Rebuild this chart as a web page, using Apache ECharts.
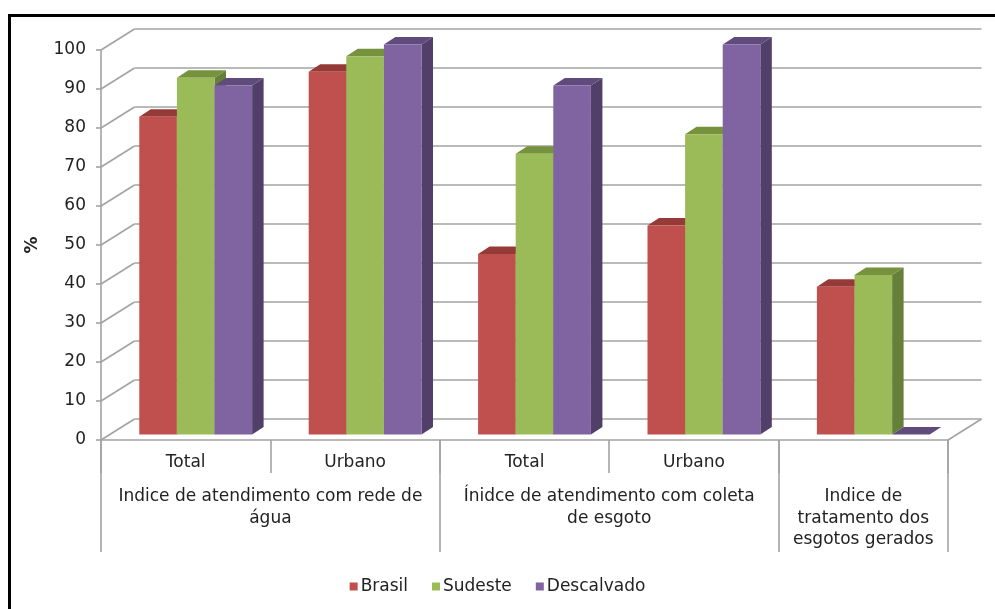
<!DOCTYPE html>
<html>
<head>
<meta charset="utf-8">
<script src="https://cdn.jsdelivr.net/npm/echarts@6/dist/echarts.min.js"></script>
<style>
html,body{margin:0;padding:0;background:#fff;}
#c{width:995px;height:609px;}
</style>
</head>
<body>
<div id="c"></div>
<script>
// ---- data ----
var subCategories = ['Total', 'Urbano', 'Total', 'Urbano', ''];
var groupLabels = ['', '', 'Indice de atendimento com rede de\nágua', '', '', '', 'Ínidce de atendimento com coleta\nde esgoto', '', '', 'Indice de\ntratamento dos\nesgotos gerados', ''];
var groupBoundaries = [0, 4, 8, 10];
var seriesNames = ['Brasil', 'Sudeste', 'Descalvado'];
var brasil = [81.5, 93, 46.3, 53.6, 37.9];
var sudeste = [91.5, 97, 72, 77, 40.9];
var descalvado = [89.5, 100, 89.5, 100, 0];
var yTicks = [0, 10, 20, 30, 40, 50, 60, 70, 80, 90, 100];

// ---- styles ----
var FONT = 'DejaVu Sans';
var TXT = '#222';
var GRID_C = '#a3a3a3';
var faceColors = ['#C0504D', '#9BBB59', '#8064A2'];
var topColors = ['#963a37', '#77923d', '#604b7d'];
var sideColors = ['#7e302e', '#66803a', '#513f6a'];
var WALL_DX = 33.5, WALL_DY = -21;     // depth of the floor / back wall
var BAR_OX = 10, BAR_OY = -5.5;        // front of bars within the depth
var BAR_DX = 11.5, BAR_DY = -7.5;      // depth of a bar
var BAR_FRAC = 0.222;                  // bar width as fraction of band

var chart = echarts.init(document.getElementById('c'), null, {renderer: 'canvas'});

function barSeries(idx, values) {
  return {
    name: seriesNames[idx],
    type: 'custom',
    xAxisIndex: 0,
    yAxisIndex: 0,
    z: 5,
    itemStyle: {color: faceColors[idx]},
    data: values.map(function (v, i) { return [i, v]; }),
    renderItem: function (params, api) {
      var cat = api.value(0), val = api.value(1);
      var base = api.coord([cat, 0]);
      var top = api.coord([cat, val]);
      var band = api.size([1, 0])[0];
      var bw = band * BAR_FRAC;
      var xl = base[0] - 1.5 * bw + idx * bw + BAR_OX;
      var xr = xl + bw;
      var yb = base[1] + BAR_OY;
      var yt = top[1] + BAR_OY;
      return {
        type: 'group',
        children: [
          {type: 'polygon', shape: {points: [[xr, yt], [xr + BAR_DX, yt + BAR_DY], [xr + BAR_DX, yb + BAR_DY], [xr, yb]]},
            style: {fill: sideColors[idx]}},
          {type: 'polygon', shape: {points: [[xl, yt], [xl + BAR_DX, yt + BAR_DY], [xr + BAR_DX, yt + BAR_DY], [xr, yt]]},
            style: {fill: topColors[idx]}},
          {type: 'rect', shape: {x: xl, y: yt, width: bw, height: Math.max(yb - yt, 0)},
            style: {fill: faceColors[idx]}}
        ]
      };
    }
  };
}

var wallSeries = {
  type: 'custom',
  name: 'walls',
  xAxisIndex: 0,
  yAxisIndex: 0,
  z: 1,
  silent: true,
  data: yTicks.map(function (v) { return [0, v]; }),
  renderItem: function (params, api) {
    var cs = params.coordSys;
    var y = api.coord([0, api.value(1)])[1];
    var left = cs.x, right = cs.x + cs.width;
    var ls = {stroke: GRID_C, lineWidth: 1.6, fill: null};
    var children = [
      {type: 'line', shape: {x1: left, y1: y, x2: left + WALL_DX, y2: y + WALL_DY}, style: ls},
      {type: 'line', shape: {x1: left + WALL_DX, y1: y + WALL_DY, x2: right + WALL_DX, y2: y + WALL_DY}, style: ls}
    ];
    if (api.value(1) === 0) {
      children.push({type: 'line', shape: {x1: right, y1: y, x2: right + WALL_DX, y2: y + WALL_DY}, style: ls});
    }
    return {type: 'group', children: children};
  }
};

var option = {
  animation: false,
  backgroundColor: '#fff',
  textStyle: {fontFamily: FONT},
  graphic: [{
    type: 'rect',
    shape: {x: 9.5, y: 15.5, width: 1100, height: 700},
    style: {fill: null, stroke: '#000', lineWidth: 3},
    silent: true
  }],
  legend: {
    data: seriesNames,
    left: 'center',
    top: 573,
    itemWidth: 8,
    itemHeight: 8,
    itemGap: 24,
    icon: 'rect',
    textStyle: {fontFamily: FONT, fontSize: 17, color: TXT, padding: [0, 0, 0, -2]}
  },
  grid: {left: 101, right: 47, top: 50, bottom: 169, containLabel: false},
  xAxis: [
    {
      type: 'category',
      data: subCategories,
      position: 'bottom',
      boundaryGap: true,
      axisLine: {show: true, lineStyle: {color: GRID_C, width: 1.6}},
      axisTick: {show: true, interval: 0, length: 33, alignWithLabel: false, lineStyle: {color: GRID_C, width: 1.6}},
      axisLabel: {interval: 0, margin: 13, fontFamily: FONT, fontSize: 17, color: TXT, lineHeight: 20},
      splitLine: {show: false}
    },
    {
      type: 'category',
      data: groupLabels,
      position: 'bottom',
      boundaryGap: false,
      axisLine: {show: false},
      axisTick: {
        show: true, length: 112, lineStyle: {color: GRID_C, width: 1.6},
        interval: function (i) { return groupBoundaries.indexOf(i) >= 0; }
      },
      axisLabel: {interval: 0, margin: 46, fontFamily: FONT, fontSize: 17, color: TXT, lineHeight: 21.5, align: 'center', hideOverlap: false},
      splitLine: {show: false}
    }
  ],
  yAxis: {
    type: 'value',
    min: 0,
    max: 100,
    interval: 10,
    name: '%',
    nameLocation: 'middle',
    nameGap: 60,
    nameRotate: 90,
    nameTextStyle: {fontFamily: FONT, fontSize: 17, fontWeight: 'bold', color: TXT},
    axisLine: {show: true, lineStyle: {color: GRID_C, width: 1.6}},
    axisTick: {show: true, length: 5, lineStyle: {color: GRID_C, width: 1.6}},
    axisLabel: {margin: 15, fontFamily: FONT, fontSize: 17, color: TXT},
    splitLine: {show: false}
  },
  series: [
    wallSeries,
    barSeries(0, brasil),
    barSeries(1, sudeste),
    barSeries(2, descalvado)
  ]
};
chart.setOption(option);
</script>
</body>
</html>
